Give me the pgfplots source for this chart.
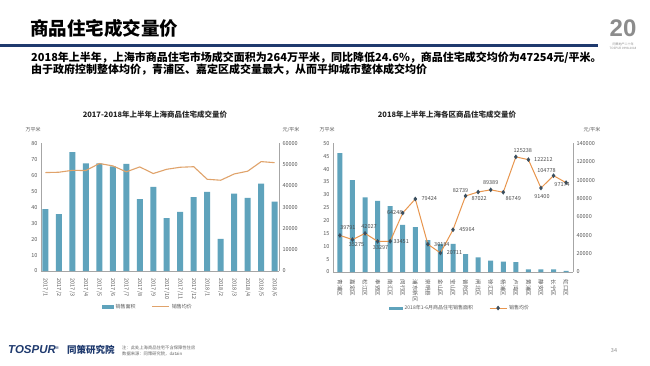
\documentclass[border=0pt]{standalone}
\usepackage{pgfplots}
\pgfplotsset{compat=1.18}
\usepackage{pgfplotstable}
\usepackage{fontspec}
\setmainfont{Noto Sans CJK SC}
\newfontfamily\lat{Liberation Sans}
\definecolor{barc}{HTML}{5FA3BC}
\definecolor{linec}{HTML}{E0A36B}
\definecolor{line2}{HTML}{E8964E}
\definecolor{mk}{HTML}{3A4E5E}
\definecolor{navy}{HTML}{1F3A6E}
\definecolor{axc}{HTML}{A6A6A6}
\definecolor{tkc}{HTML}{595959}

\pgfplotstableread{
x area price
0 38.8 46250
1 35.6 46400
2 74.4 47300
3 67.5 47200
4 67.5 50500
5 65.6 49400
6 67.1 46600
7 45.0 48900
8 52.7 45800
9 33.1 47800
10 37.1 48750
11 46.3 49000
12 49.6 43100
13 20.2 42650
14 48.5 45600
15 45.8 46900
16 54.8 51400
17 43.5 50900
}\monthdata

\pgfplotstableread{
x area price dx dy
0 46.2 39791 8 7.5
1 35.7 35275 4 -4.5
2 29.0 42027 4 6.5
3 27.6 33297 3 -6
4 25.6 33451 11 0
5 18.3 64248 -8 0
6 17.4 79424 14 0
7 12.4 30184 14 0
8 10.9 20711 14 0
9 10.9 45964 14 0
10 6.9 82739 -5 5
11 5.7 87022 1 -6.5
12 4.4 89389 0 7
13 4.0 86749 10 -6
14 3.8 125238 7 6
15 1.0 122212 15 0
16 1.0 91400 1 -9
17 1.0 104778 -7 5
18 0.4 97174 -4 -2
}\distdata

\pgfplotsset{
  every axis/.append style={
    scale only axis,
    axis line style={axc},
    tick style={draw=none},
    ticklabel style={font=\fontsize{5.5}{6}\selectfont, text=tkc},
    /pgf/number format/assume math mode=true,
    /pgf/number format/fixed,
    /pgf/number format/precision=0,
    /pgf/number format/1000 sep={},
  },
}

\begin{document}
\begin{tikzpicture}[x=1pt,y=1pt]
\fill[white] (0,0) rectangle (650,365);
% header
\node[anchor=west, font=\fontsize{18.5}{21}\selectfont\bfseries, inner sep=0] at (30,337) {商品住宅成交量价};
\fill[navy] (0,318) rectangle (598,321);
\node[anchor=west, font=\fontsize{11}{13}\selectfont\bfseries, inner sep=0] at (31,307) {2018年上半年，上海市商品住宅市场成交面积为264万平米，同比降低24.6\%，商品住宅成交均价为47254元/平米。};
\node[anchor=west, font=\fontsize{11}{13}\selectfont\bfseries, inner sep=0] at (31,295.5) {由于政府控制整体均价，青浦区、嘉定区成交量最大，从而平抑城市整体成交均价};
% logo
\node[font=\lat\fontsize{24}{24}\selectfont\bfseries, text=black!45] at (623,337) {20};
\node[font=\fontsize{3}{3.5}\selectfont, text=black!45] at (623,321) {同策地产二十年};
\node[font=\fontsize{3}{3.5}\selectfont, text=black!45] at (623,316.5) {TOSPUR 1998-2018};

% chart titles
\node[font=\fontsize{7.5}{9}\selectfont\bfseries, text=black!85] at (155,250) {2017-2018年上半年上海商品住宅成交量价};
\node[font=\fontsize{7.5}{9}\selectfont\bfseries, text=black!85] at (447,250) {2018年上半年上海各区商品住宅成交量价};
\node[font=\fontsize{5}{6}\selectfont, text=tkc] at (33,235) {万平米};
\node[font=\fontsize{5}{6}\selectfont, text=tkc] at (291,235) {元/平米};
\node[font=\fontsize{5}{6}\selectfont, text=tkc] at (327,235) {万平米};
\node[font=\fontsize{5}{6}\selectfont, text=tkc] at (592,235) {元/平米};

% ---------- left chart ----------
\begin{axis}[at={(41pt,94pt)}, anchor=south west, width=238pt, height=127.7pt,
  xmin=-0.32, xmax=17.32, ymin=0, ymax=80, ytick={0,10,...,80},
  axis x line*=bottom, axis y line*=left,
  xtick={0,...,17},
  xticklabels={2017/1,2017/2,2017/3,2017/4,2017/5,2017/6,2017/7,2017/8,2017/9,2017/10,2017/11,2017/12,2018/1,2018/2,2018/3,2018/4,2018/5,2018/6},
  x tick label style={rotate=-90, anchor=west},
  ybar, bar width=6pt]
\addplot[fill=barc, draw=none] table[x=x,y=area]{\monthdata};
\end{axis}
\begin{axis}[at={(41pt,94pt)}, anchor=south west, width=238pt, height=127.7pt,
  xmin=-0.32, xmax=17.32, ymin=0, ymax=60000, ytick={0,10000,...,60000},
  scaled y ticks=false, axis y line*=right, axis x line=none,
  legend style={at={(0.45,-0.28)}, anchor=center, draw=none, fill=none,
    font=\fontsize{5}{6}\selectfont, text=tkc, legend columns=2,
    /tikz/every even column/.append style={column sep=14pt}}]
\addlegendimage{legend image code/.code={\fill[barc] (0pt,-1.2pt) rectangle (11pt,1.2pt);}}
\addlegendentry{销售面积}
\addplot[linec, line width=1.1pt] table[x=x,y=price]{\monthdata};
\addlegendentry{销售均价}
\end{axis}

% ---------- right chart ----------
\begin{axis}[at={(333pt,93pt)}, anchor=south west, width=240pt, height=128.7pt,
  xmin=-0.55, xmax=18.55, ymin=0, ymax=50, ytick={0,5,...,50},
  axis x line*=bottom, axis y line*=left,
  xtick={0,...,18},
  xticklabels={青浦区,嘉定区,松江区,奉贤区,南汇区,闵行区,浦东新区,崇明县,金山区,宝山区,普陀区,闸北区,徐汇区,杨浦区,卢湾区,黄浦区,静安区,长宁区,虹口区},
  x tick label style={rotate=-90, anchor=west},
  ybar, bar width=5pt]
\addplot[fill=barc, draw=none] table[x=x,y=area]{\distdata};
\end{axis}
\begin{axis}[at={(333pt,93pt)}, anchor=south west, width=240pt, height=128.7pt,
  xmin=-0.55, xmax=18.55, ymin=0, ymax=140000, ytick={0,20000,...,140000},
  scaled y ticks=false, axis y line*=right, axis x line=none,
  legend style={at={(0.53,-0.28)}, anchor=center, draw=none, fill=none,
    font=\fontsize{5}{6}\selectfont, text=tkc, legend columns=2,
    /tikz/every even column/.append style={column sep=14pt}}]
\addlegendimage{legend image code/.code={\fill[barc] (0pt,-1.2pt) rectangle (13pt,1.2pt);}}
\addlegendentry{2018年1-6月商品住宅销售面积}
\addplot[line2, line width=1pt, mark=diamond*, mark size=1.6pt,
  mark options={fill=mk, draw=mk},
  point meta=explicit symbolic,
  visualization depends on={\thisrow{dx} \as \dx},
  visualization depends on={\thisrow{dy} \as \dy},
  nodes near coords={\pgfplotspointmeta},
  every node near coord/.append style={anchor=center, xshift=\dx pt, yshift=\dy pt,
    font=\fontsize{5.5}{6}\selectfont, text=black!70, inner sep=0.5pt}]
  table[x=x,y=price,meta=price]{\distdata};
\addlegendentry{销售均价}
\end{axis}

% footer
\node[anchor=west, font=\lat\fontsize{11.5}{12}\selectfont\bfseries\itshape, text=navy, inner sep=0] at (8,15) {TOSPUR\textsuperscript{\fontsize{4}{4}\selectfont ®}};
\node[anchor=west, font=\fontsize{9.5}{10}\selectfont\bfseries\itshape, text=navy, inner sep=0] at (67,15) {同策研究院};
\node[anchor=west, font=\fontsize{4.3}{5}\selectfont, text=black!60, inner sep=0] at (122,16.8) {注：此处上海商品住宅不含保障性住房};
\node[anchor=west, font=\fontsize{4.3}{5}\selectfont, text=black!60, inner sep=0] at (122,11) {数据来源：同策研究院，datain};
\node[font=\fontsize{5.5}{6}\selectfont, text=black!45] at (614,14) {34};
\end{tikzpicture}
\end{document}
